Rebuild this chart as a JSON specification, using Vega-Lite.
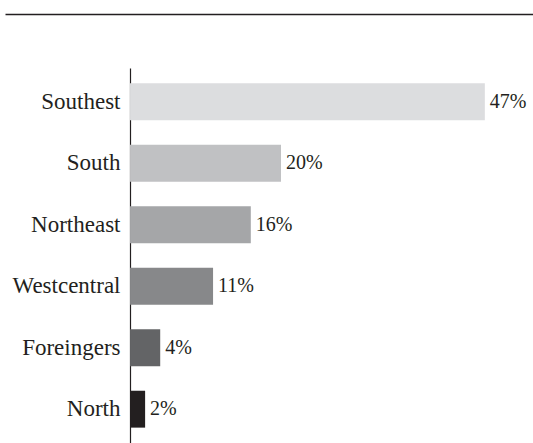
{
  "$schema": "https://vega.github.io/schema/vega-lite/v6.json",
  "autosize": {"type": "none"},
  "padding": {"top": 68, "left": 5, "right": 0, "bottom": 0},
  "width": 528,
  "height": 375,
  "background": "white",
  "config": {"view": {"stroke": null}, "font": "Liberation Serif"},
  "data": {"values": [
    {"region": "Southest", "value": 47, "label": "47%"},
    {"region": "South", "value": 20, "label": "20%"},
    {"region": "Northeast", "value": 16, "label": "16%"},
    {"region": "Westcentral", "value": 11, "label": "11%"},
    {"region": "Foreingers", "value": 4, "label": "4%"},
    {"region": "North", "value": 2, "label": "2%"}
  ]},
  "encoding": {
    "y": {"field": "region", "type": "nominal", "sort": null,
      "scale": {"paddingInner": 0.4, "paddingOuter": 0.25},
      "axis": {"title": null, "orient": "left", "offset": -125, "ticks": false, "labelPadding": 10,
        "labelFont": "Liberation Serif", "labelFontSize": 23, "labelColor": "#231f20",
        "domainColor": "#231f20", "domainWidth": 1.2}},
    "x": {"field": "value", "type": "quantitative",
      "scale": {"domain": [-16.56, 53.38], "nice": false, "zero": false},
      "axis": {"orient": "top", "offset": 54, "title": null, "labels": false, "ticks": false, "grid": false,
        "domainColor": "#231f20", "domainWidth": 1.5}}
  },
  "layer": [
    {"mark": {"type": "bar"},
      "encoding": {
        "x2": {"datum": 0},
        "color": {"field": "region", "type": "nominal", "legend": null,
          "scale": {"domain": ["Southest", "South", "Northeast", "Westcentral", "Foreingers", "North"],
            "range": ["#dcdddf", "#c0c1c3", "#a5a6a8", "#87888a", "#636466", "#231f20"]}}
      }},
    {"mark": {"type": "text", "align": "left", "baseline": "middle", "dx": 5, "font": "Liberation Serif", "fontSize": 20, "color": "#231f20"},
      "encoding": {"text": {"field": "label"}}}
  ]
}
